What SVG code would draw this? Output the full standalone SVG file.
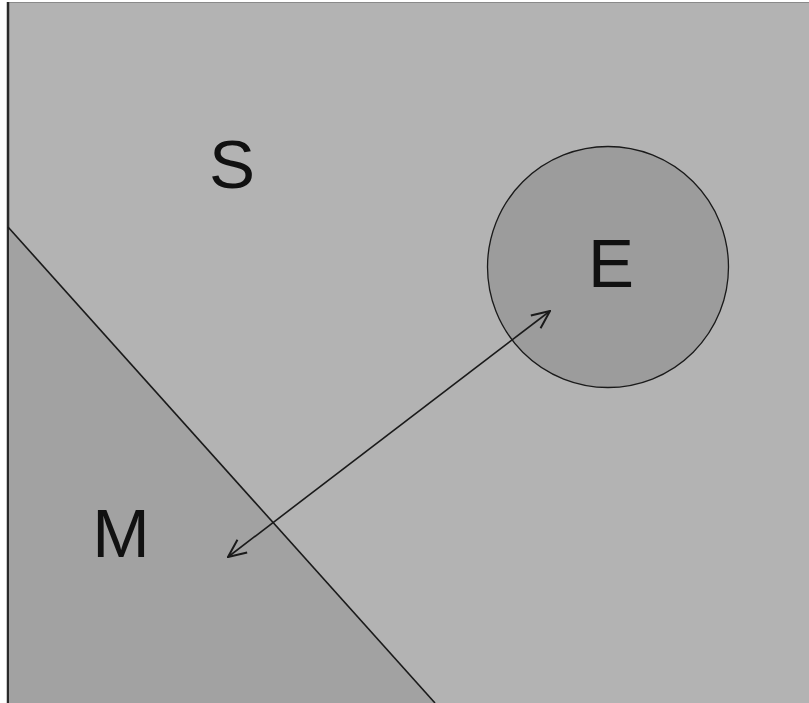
<svg xmlns="http://www.w3.org/2000/svg" width="809" height="703" viewBox="0 0 809 703">
<defs>
<style>
.lbl{font-family:"Liberation Sans",Arial,sans-serif;font-size:69px;fill:#111;text-anchor:middle}
.edge{stroke:#1a1a1a;stroke-width:1.6;fill:none}
</style>
<marker id="ah" viewBox="0 0 20 20" refX="19" refY="10" markerWidth="20" markerHeight="20" markerUnits="userSpaceOnUse" orient="auto-start-reverse">
<path d="M1,2 L19,10 L1,18" fill="none" stroke="#1a1a1a" stroke-width="2"/>
</marker>
</defs>
<rect x="0" y="0" width="809" height="703" fill="#ffffff"/>
<g id="S">
<rect x="8" y="2" width="801" height="701" fill="#b3b3b3"/>
<line x1="8" y1="2.5" x2="809" y2="2.5" stroke="#8a8a8a" stroke-width="1"/>
<line x1="8" y1="2" x2="8" y2="703" stroke="#2a2a2a" stroke-width="2.5"/>
<text class="lbl" x="232" y="188">S</text>
</g>
<g id="M">
<polygon points="9,227 435,703 9,703" fill="#a2a2a2"/>
<line x1="8" y1="227" x2="435" y2="703" stroke="#1a1a1a" stroke-width="1.6"/>
<text class="lbl" x="121" y="557">M</text>
</g>
<g id="E">
<circle cx="608" cy="267" r="120.5" fill="#9c9c9c" stroke="#1a1a1a" stroke-width="1.3"/>
<text class="lbl" x="611" y="287">E</text>
</g>
<g id="connectors">
<line class="edge" x1="228" y1="557" x2="550" y2="311" marker-start="url(#ah)" marker-end="url(#ah)"/>
</g>
</svg>
